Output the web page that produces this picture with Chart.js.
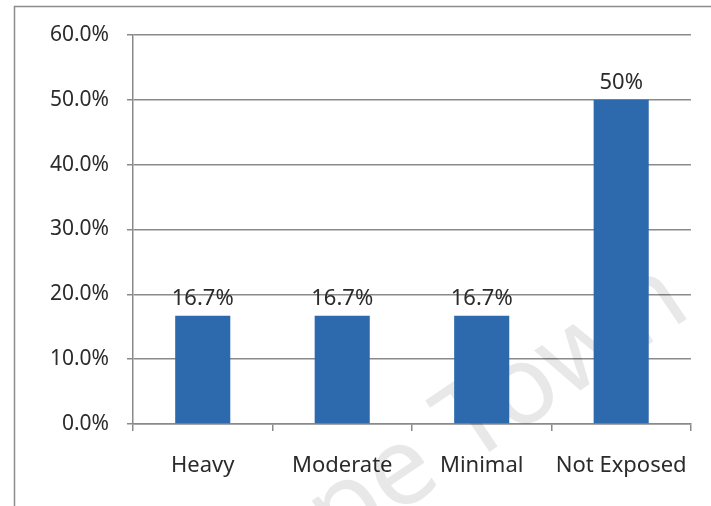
<!DOCTYPE html>
<html>
<head>
<meta charset="utf-8">
<script src="https://cdn.jsdelivr.net/npm/chart.js@4.4.1/dist/chart.umd.min.js"></script>
<style>
  html, body { margin: 0; padding: 0; background: #ffffff; }
  #wrap { position: relative; width: 711px; height: 506px; }
</style>
</head>
<body>
<div id="wrap"><canvas id="chart" width="711" height="506"></canvas></div>
<script>
// Exposure categories and the share of respondents in each (percent)
const categories = ['Heavy', 'Moderate', 'Minimal', 'Not Exposed'];
const shares = [16.7, 16.7, 16.7, 50];
const yTicks = [0, 10, 20, 30, 40, 50, 60];

const INK = '#2b2b2b';
const GRID = '#8a8a8a';
const BAR = '#2c6aad';
const FONT = '"Noto Sans", "Open Sans", sans-serif';

const fmtValue = v => (Number.isInteger(v) ? v + '%' : v.toFixed(1) + '%');

// Frame around the figure plus the faint background lettering
const framePlugin = {
  id: 'frame',
  beforeDraw(chart) {
    const ctx = chart.ctx;
    ctx.save();
    ctx.fillStyle = '#ffffff';
    ctx.fillRect(0, 0, chart.width, chart.height);
    ctx.strokeStyle = '#8c8c8c';
    ctx.lineWidth = 1.5;
    ctx.beginPath();
    ctx.moveTo(14.5, chart.height);
    ctx.lineTo(14.5, 6.5);
    ctx.lineTo(chart.width, 6.5);
    ctx.stroke();
    ctx.restore();
  },
  beforeDatasetsDraw(chart) {
    const ctx = chart.ctx;
    ctx.save();
    ctx.translate(694, 314);
    ctx.rotate(-34 * Math.PI / 180);
    ctx.font = '110px ' + FONT;
    ctx.fillStyle = 'rgba(0,0,0,0.09)';
    ctx.textAlign = 'right';
    ctx.textBaseline = 'alphabetic';
    ctx.fillText('Cape Town', 0, 0);
    ctx.restore();
  }
};

// Value labels above each bar
const valueLabels = {
  id: 'valueLabels',
  afterDatasetsDraw(chart) {
    const ctx = chart.ctx;
    const meta = chart.getDatasetMeta(0);
    ctx.save();
    ctx.font = '22px ' + FONT;
    ctx.fillStyle = INK;
    ctx.textAlign = 'center';
    ctx.textBaseline = 'bottom';
    meta.data.forEach((bar, i) => {
      const v = chart.data.datasets[0].data[i];
      ctx.fillText(fmtValue(v), bar.x, bar.y - 6);
    });
    ctx.restore();
  }
};

new Chart(document.getElementById('chart'), {
  type: 'bar',
  data: {
    labels: categories,
    datasets: [{
      data: shares,
      backgroundColor: BAR,
      borderWidth: 0,
      barPercentage: 0.395,
      categoryPercentage: 1
    }]
  },
  options: {
    responsive: false,
    animation: false,
    devicePixelRatio: 1,
    layout: { padding: { left: 0, right: 19, top: 35, bottom: 0 } },
    plugins: { legend: { display: false }, tooltip: { enabled: false } },
    scales: {
      y: {
        min: 0,
        max: 60,
        afterFit(scale) { scale.width = 133; },
        afterBuildTicks(scale) { scale.ticks = yTicks.map(v => ({ value: v })); },
        ticks: {
          color: INK,
          font: { family: FONT, size: 21 },
          padding: 18,
          callback: v => v.toFixed(1) + '%'
        },
        grid: { color: GRID, lineWidth: 1.5, tickLength: 6, drawTicks: true },
        border: { color: GRID, width: 1.5 }
      },
      x: {
        afterFit(scale) { scale.height = 82; },
        ticks: {
          color: INK,
          font: { family: FONT, size: 22 },
          padding: 22,
          maxRotation: 0
        },
        grid: { offset: true, drawOnChartArea: false, color: GRID, lineWidth: 1.5, tickLength: 7 },
        border: { color: GRID, width: 1.5 }
      }
    }
  },
  plugins: [framePlugin, valueLabels]
});
</script>
</body>
</html>
